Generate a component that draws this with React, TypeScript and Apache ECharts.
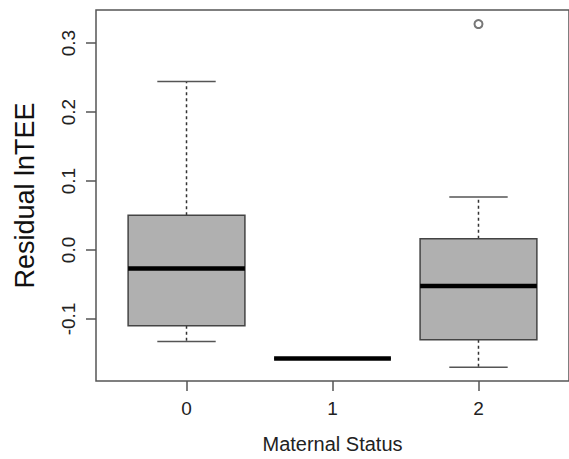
import React, { useEffect, useRef } from "react";
import * as echarts from "echarts";

const categories = ["0", "1", "2"];
const whiskerLow = [-0.1326, -0.1575, -0.170];
const q1 = [-0.110, -0.1575, -0.1302];
const median = [-0.0267, -0.1575, -0.0522];
const q3 = [0.0503, -0.1575, 0.0164];
const whiskerHigh = [0.2443, -0.1575, 0.0767];
const outliers: [number, number][] = [[2, 0.3276]];
const yTicks = [-0.1, 0.0, 0.1, 0.2, 0.3];

const FONT = "Liberation Sans, Arial, Helvetica, sans-serif";

export default function App() {
  const ref = useRef<HTMLDivElement>(null);
  useEffect(() => {
    if (!ref.current) return;
    const chart = echarts.init(ref.current, undefined, { renderer: "svg" });
    const boxData = categories.map((_, i) => [
      i,
      whiskerLow[i],
      q1[i],
      median[i],
      q3[i],
      whiskerHigh[i],
    ]);
    const option: any = {
      animation: false,
      backgroundColor: "#ffffff",
      grid: {
        left: 96,
        top: 10,
        width: 479,
        height: 375,
        show: true,
        borderColor: "#555555",
        borderWidth: 1.5,
        backgroundColor: "transparent",
      },
      xAxis: {
        type: "value",
        min: -0.62,
        max: 2.62,
        name: "Maternal Status",
        nameLocation: "middle",
        nameGap: 53,
        nameTextStyle: { fontSize: 20, color: "#222", fontFamily: FONT },
        axisLine: { show: false, onZero: false },
        splitLine: { show: false },
        axisTick: {
          show: true,
          length: 10,
          customValues: [0, 1, 2],
          lineStyle: { color: "#555", width: 1.5 },
        },
        axisLabel: {
          customValues: [0, 1, 2],
          formatter: (v: number) => categories[Math.round(v)] ?? "",
          fontSize: 19,
          color: "#222",
          fontFamily: FONT,
          margin: 18,
        },
      },
      yAxis: {
        type: "value",
        min: -0.19,
        max: 0.348,
        name: "Residual lnTEE",
        nameLocation: "middle",
        nameGap: 58,
        nameTextStyle: { fontSize: 27, color: "#111", fontFamily: FONT },
        axisLine: { show: false, onZero: false },
        splitLine: { show: false },
        axisTick: {
          show: true,
          length: 10,
          customValues: yTicks,
          lineStyle: { color: "#555", width: 1.5 },
        },
        axisLabel: {
          customValues: yTicks,
          rotate: 90,
          formatter: (v: number) => v.toFixed(1),
          fontSize: 19,
          color: "#222",
          fontFamily: FONT,
          margin: 18,
        },
      },
      series: [
        {
          type: "custom",
          data: boxData,
          encode: { x: 0, y: [1, 2, 3, 4, 5] },
          renderItem: (params: any, api: any) => {
            const x = api.value(0);
            const pLow = api.coord([x, api.value(1)]);
            const pQ1 = api.coord([x, api.value(2)]);
            const pMed = api.coord([x, api.value(3)]);
            const pQ3 = api.coord([x, api.value(4)]);
            const pHigh = api.coord([x, api.value(5)]);
            const w = api.size([0.8, 0])[0];
            const cx = pMed[0];
            const hw = w / 2;
            const cw = w / 4;
            const dashed = { stroke: "#333", lineWidth: 1.5, lineDash: [3, 3] };
            const solid = { stroke: "#555", lineWidth: 1.5 };
            return {
              type: "group",
              children: [
                {
                  type: "line",
                  shape: { x1: cx, y1: pQ3[1], x2: cx, y2: pHigh[1] },
                  style: dashed,
                },
                {
                  type: "line",
                  shape: { x1: cx, y1: pQ1[1], x2: cx, y2: pLow[1] },
                  style: dashed,
                },
                {
                  type: "line",
                  shape: { x1: cx - cw, y1: pHigh[1], x2: cx + cw, y2: pHigh[1] },
                  style: solid,
                },
                {
                  type: "line",
                  shape: { x1: cx - cw, y1: pLow[1], x2: cx + cw, y2: pLow[1] },
                  style: solid,
                },
                {
                  type: "rect",
                  shape: {
                    x: cx - hw,
                    y: pQ3[1],
                    width: w,
                    height: pQ1[1] - pQ3[1],
                  },
                  style: { fill: "#b0b0b0", stroke: "#444", lineWidth: 1.5 },
                },
                {
                  type: "line",
                  shape: { x1: cx - hw, y1: pMed[1], x2: cx + hw, y2: pMed[1] },
                  style: { stroke: "#000", lineWidth: 4.5 },
                },
              ],
            };
          },
        },
        {
          type: "scatter",
          data: outliers,
          symbol: "emptyCircle",
          symbolSize: 8,
          itemStyle: { color: "#555", borderColor: "#555", borderWidth: 1.5 },
        },
      ],
    };
    chart.setOption(option);
    return () => chart.dispose();
  }, []);
  return (
    <div
      ref={ref}
      style={{ position: "fixed", left: 0, top: 0, width: 569, height: 459 }}
    />
  );
}
